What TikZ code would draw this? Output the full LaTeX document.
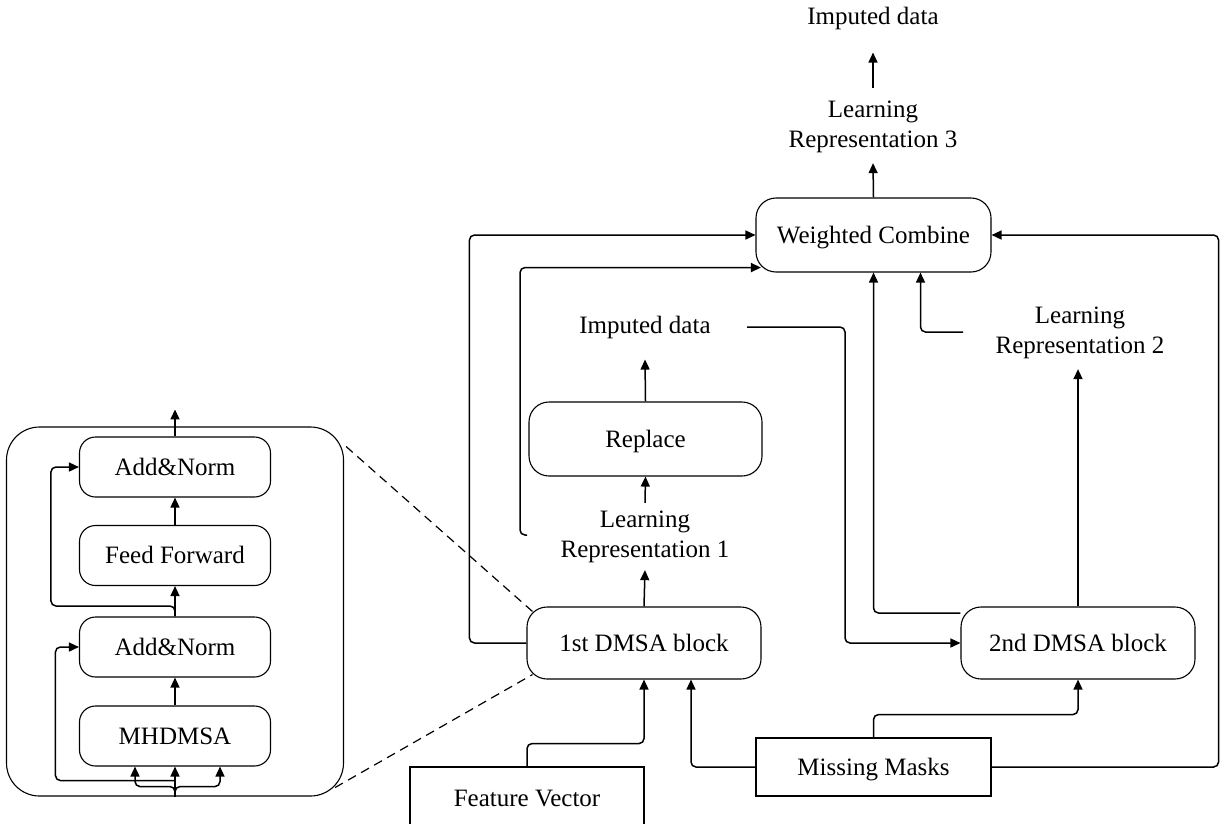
\documentclass[tikz,border=0pt]{standalone}
\usepackage{fontspec}
\setmainfont{Liberation Serif}
\usetikzlibrary{arrows.meta,calc}
\begin{document}
\begin{tikzpicture}[x=1pt,y=-1pt,
  every node/.style={font=\fontsize{25}{30}\selectfont, inner sep=0pt},
  rb/.style={draw, line width=1.1pt, rounded corners=20pt, text height=16.5pt, text depth=0pt},
  ib/.style={draw, line width=1.1pt, rounded corners=16pt, text height=16.5pt, text depth=0pt, minimum width=191pt, minimum height=60pt},
  sb/.style={draw, line width=1.1pt, text height=16.5pt, text depth=0pt},
  lb/.style={align=center},
  arr/.style={line width=1.5pt, rounded corners=5pt, -{Triangle[length=10pt,width=9pt]}},
  dsh/.style={line width=1.2pt, dash pattern=on 9pt off 6pt}
]
\fill[white] (0,0) rectangle (1220,823);
\useasboundingbox (0,0) rectangle (1220,823);

% main nodes
\node[rb, minimum width=235pt, minimum height=74pt] (wc) at (873.5,235) {Weighted Combine};
\node (imp3) at (873,18) {Imputed data};
\node[lb] (lr3) at (873,127) {Learning\\Representation 3};
\node[rb, minimum width=233pt, minimum height=74pt] (rep) at (645.5,439) {Replace};
\node (imp1) at (645,327) {Imputed data};
\node[lb] (lr1) at (645,537) {Learning\\Representation 1};
\node[lb] (lr2) at (1080,333) {Learning\\Representation 2};
\node[rb, minimum width=234pt, minimum height=72pt] (d1) at (644,643) {1st DMSA block};
\node[rb, minimum width=234pt, minimum height=72pt] (d2) at (1078,643) {2nd DMSA block};
\node[sb, minimum width=234pt, minimum height=62pt] (fv) at (527,798) {Feature Vector};
\node[sb, minimum width=235pt, minimum height=58pt] (mm) at (873.5,767) {Missing Masks};

% encoder block
\node[draw, line width=1.1pt, rounded corners=33pt, minimum width=337pt, minimum height=369pt] (enc) at (175,611.5) {};
\node[ib] (an2) at (175,467) {Add\&Norm};
\node[ib] (ff) at (175,555.5) {Feed Forward};
\node[ib] (an1) at (175,647) {Add\&Norm};
\node[ib] (mh) at (175,736) {MHDMSA};

\coordinate (g0) at (527,535);
\coordinate (h0) at (747,327);
\coordinate (j0) at (963,332);

% main connectors
\draw[arr] (wc.north) -- ($(lr3.south)+(0,10)$);
\draw[arr] ($(lr3.north)+(0,-13)$) -- ($(imp3.south)+(0,23)$);
\draw[arr] (rep.north) -- ($(imp1.south)+(0,21)$);
\draw[arr] ($(lr1.north)+(0,-8)$) -- (rep.south);
\draw[arr] (d1.north) -- ($(lr1.south)+(0,7)$);
\draw[arr] (d1.west) -- ++(-57,0) |- (wc.west);
\draw[arr] (g0) -- ++(-7,0) |- ($(wc.south west)+(5.5,-5)$);
\draw[arr] (h0) -- ++(98,0) |- (d2.west);
\draw[arr] ($(d2.west)+(0,-30)$) -| (wc.south);
\draw[arr] (j0) -| ($(wc.south)+(47,0)$);
\draw[arr] (d2.north) -- ($(d2.north |- lr2.south)+(0,10)$);
\draw[arr] (mm.east) -- ++(227,0) |- (wc.east);
\draw[arr] (mm.north) |- ($(d2.south)+(0,35)$) -- (d2.south);
\draw[arr] (mm.west) -| ($(d1.south)+(47,0)$);
\draw[arr] (fv.north) |- ($(d1.south)+(0,64)$) -- (d1.south);

% encoder connectors
\draw[arr] (an2.north) -- ++(0,-27);
\draw[arr] (ff.north) -- (an2.south);
\draw[arr] (an1.north) -- (ff.south);
\draw[arr] (an1.north) |- ($(an2.west)+(-28,139)$) |- (an2.west);
\draw[arr] (mh.north) -- (an1.south);
\draw[arr] (enc.south) -- (mh.south);
\draw[arr] (enc.south) |- ($(mh.south)+(-40,20)$) -- ($(mh.south)+(-40,0)$);
\draw[arr] (enc.south) |- ($(mh.south)+(45,20)$) -- ($(mh.south)+(45,0)$);
\draw[arr] ($(enc.south)+(0,-16)$) -| ($(an1.west)+(-23.5,0)$) -- (an1.west);

% dashed zoom lines
\draw[dsh] ($(enc.north east)+(2,20)$) -- ($(d1.north west)+(6,5)$);
\draw[dsh] ($(enc.south east)+(-9,-9)$) -- ($(d1.south west)+(6,-5)$);
\end{tikzpicture}
\end{document}
